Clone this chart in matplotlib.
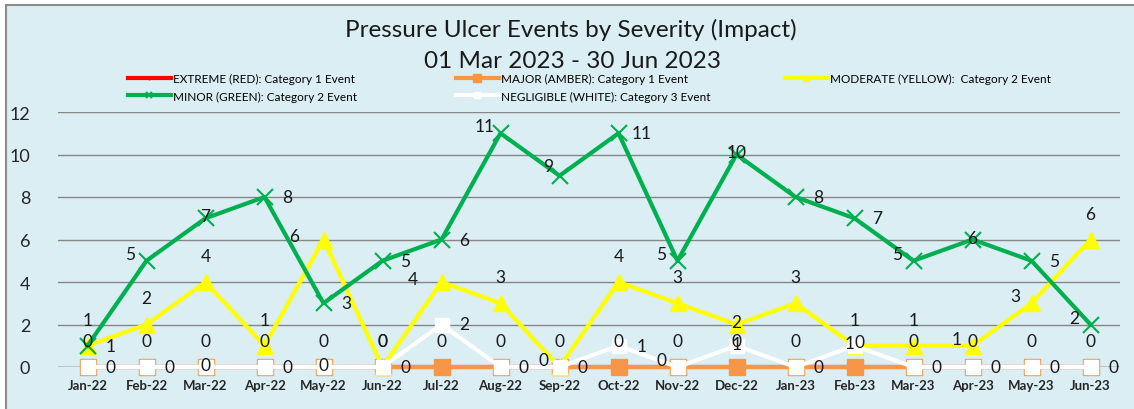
import matplotlib.pyplot as plt
from matplotlib.patches import Rectangle

plt.rcParams['font.family'] = ['Lato', 'DejaVu Sans']

months = ['Jan-22', 'Feb-22', 'Mar-22', 'Apr-22', 'May-22', 'Jun-22', 'Jul-22', 'Aug-22', 'Sep-22',
          'Oct-22', 'Nov-22', 'Dec-22', 'Jan-23', 'Feb-23', 'Mar-23', 'Apr-23', 'May-23', 'Jun-23']
extreme = [0, 0, 0, 0, 0, 0, 0, 0, 0, 0, 0, 0, 0, 0, 0, 0, 0, 0]
major = [0, 0, 0, 0, 0, 0, 0, 0, 0, 0, 0, 0, 0, 0, 0, 0, 0, 0]
moderate = [1, 2, 4, 1, 6, 0, 4, 3, 0, 4, 3, 2, 3, 1, 1, 1, 3, 6]
minor = [1, 5, 7, 8, 3, 5, 6, 11, 9, 11, 5, 10, 8, 7, 5, 6, 5, 2]
negligible = [0, 0, 0, 0, 0, 0, 2, 0, 0, 1, 0, 1, 0, 1, 0, 0, 0, 0]

# where each data label sits (r=right, l=left, a=above, c=centre, L=far left, u=up-left,
# b=above nudged right, k=centre nudged left)
pos_extreme = 'aaaaaaaaaaaaabaaaa'
pos_moderate = 'raaaLaLalaacaaalla'
pos_minor = 'alcrrrrlurlcrrlcrl'
pos_negl = 'rrcrcrrrrrlcrkrrrr'

bg = '#DAEEF3'
fig = plt.figure(figsize=(11.34, 4.10), dpi=100, facecolor='white')
fig.patches.append(Rectangle((6 / 1134, -0.1), 1.2, 1.1 - 6 / 410, transform=fig.transFigure,
                             facecolor=bg, edgecolor='#8C8C8C', linewidth=1.5, zorder=-1))
ax = fig.add_axes([58 / 1134, 1 - 368 / 410, 1062 / 1134, 255 / 410])
ax.set_facecolor(bg)

x = list(range(len(months)))
l1, = ax.plot(x, extreme, color='#FF0000', lw=3, marker='+', ms=6, zorder=2, clip_on=False,
              label='EXTREME (RED): Category 1 Event')
l2, = ax.plot(x, major, color='#F79646', lw=3, marker='s', ms=12, zorder=3, clip_on=False,
              label='MAJOR (AMBER): Category 1 Event')
l3, = ax.plot(x, moderate, color='#FFFF00', lw=3, marker='^', ms=11, zorder=4, clip_on=False,
              label='MODERATE (YELLOW):  Category 2 Event')
l4, = ax.plot(x, minor, color='#00B050', lw=3, marker='x', ms=11, mew=1.5, zorder=5, clip_on=False,
              label='MINOR (GREEN): Category 2 Event')
l5, = ax.plot(x, negligible, color='white', lw=3, marker='s', ms=10, zorder=6, clip_on=False,
              label='NEGLIGIBLE (WHITE): Category 3 Event')

offs = {'r': (23, 0), 'l': (-16, 7), 'a': (0, 26), 'c': (0, 2), 'L': (-29, 3), 'u': (-11, 10),
        'b': (5, 25), 'k': (-5, 3)}


def put_labels(vals, pos):
    for i, v in enumerate(vals):
        dx, dy = offs[pos[i]]
        ax.annotate(str(v), (i, v), xytext=(dx, dy), textcoords='offset pixels', ha='center', va='center',
                    fontsize=12.5, color='#1a1a1a', zorder=8, annotation_clip=False)


put_labels(extreme, pos_extreme)
put_labels(moderate, pos_moderate)
put_labels(minor, pos_minor)
put_labels(negligible, pos_negl)

ax.set_xlim(-0.5, len(months) - 0.5)
ax.set_ylim(0, 12)
ax.set_yticks(range(0, 13, 2))
ax.set_xticks(x)
ax.set_xticklabels(months, fontsize=9.5, fontweight='bold', color='#262626')
ax.tick_params(axis='y', labelsize=13, colors='#262626', length=0, pad=20)
ax.tick_params(axis='x', length=0, pad=9)
ax.grid(axis='y', color='#868686', lw=1)
ax.set_axisbelow(True)
for s in ax.spines.values():
    s.set_visible(False)
ax.axhline(0, color='#868686', lw=1, zorder=1)

fig.text(571 / 1134, 1 - 30 / 410, 'Pressure Ulcer Events by Severity (Impact)', ha='center', va='center',
         fontsize=17.5, color='#1a1a1a')
fig.text(572 / 1134, 1 - 61 / 410, '01 Mar 2023 - 30 Jun 2023', ha='center', va='center',
         fontsize=17.5, color='#1a1a1a')

# one legend per column so the columns sit where the reference has them
for hs, x0 in [([l1, l4], 128), ([l2, l5], 456), ([l3], 785)]:
    fig.legend(hs, [h.get_label() for h in hs], loc='upper left', bbox_to_anchor=(x0 / 1134, 1 - 74 / 410),
               frameon=False, fontsize=8.5, handlelength=3.6, handletextpad=0.2, labelspacing=0.55,
               markerscale=0.45, borderpad=0, borderaxespad=0)

fig.savefig('out.png', dpi=100, facecolor='white')
